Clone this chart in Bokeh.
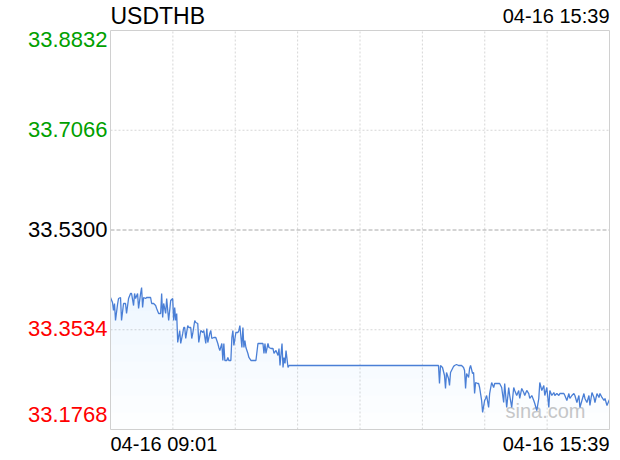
import numpy as np
from bokeh.plotting import figure
from bokeh.models import Range1d
from bokeh.core.properties import value
from bokeh.embed import file_html
from bokeh.resources import INLINE

symbol = "USDTHB"
start_label = "04-16 09:01"
end_label = "04-16 15:39"
watermark = "sina.com"
prev_close = 33.5300
y_ticks = [33.8832, 33.7066, 33.5300, 33.3534, 33.1768]
y_tick_labels = ["33.8832", "33.7066", "33.5300", "33.3534", "33.1768"]
session_minutes = 398  # 09:01 -> 15:39

# minutes since 09:01
minutes = [
    0.0, 1.6, 2.4, 3.2, 4.0, 5.6, 6.4, 8.0, 8.8, 10.4,
    12.0, 12.8, 14.4, 16.0, 16.8, 18.4, 19.2, 20.0, 21.6, 22.4,
    24.0, 24.8, 25.6, 26.4, 28.0, 28.8, 30.4, 32.0, 32.8, 34.4,
    36.0, 36.8, 38.4, 40.0, 40.8, 41.6, 42.4, 44.0, 44.8, 46.4,
    48.0, 49.6, 50.4, 51.2, 52.0, 52.8, 53.6, 55.2, 56.0, 57.6,
    58.4, 59.2, 60.0, 61.6, 62.4, 64.0, 64.8, 65.6, 67.2, 68.0,
    69.6, 70.4, 72.0, 73.6, 74.4, 76.0, 76.8, 77.6, 79.2, 80.0,
    80.8, 82.4, 83.2, 84.0, 85.6, 86.4, 87.2, 88.8, 89.6, 90.4,
    91.2, 92.8, 93.6, 94.4, 96.0, 96.8, 97.6, 98.4, 100.0, 101.6,
    102.4, 103.2, 104.8, 105.6, 106.4, 107.2, 108.0, 109.6, 110.4, 112.0,
    113.6, 114.4, 116.0, 117.6, 118.4, 120.0, 121.6, 122.4, 123.2, 124.0,
    125.6, 126.4, 128.0, 129.6, 130.4, 132.0, 133.6, 134.4, 135.2, 136.8,
    137.6, 138.4, 139.2, 140.0, 141.6, 142.4,
    261.6,
    262.4, 263.2, 264.8, 266.4, 267.2, 268.0, 269.6, 270.4, 271.2, 272.8,
    273.6, 274.4, 276.0, 277.6, 280.0, 281.6, 282.4, 283.2, 284.0, 285.6,
    286.4, 287.2, 288.8, 289.6, 290.4, 291.2, 292.8, 293.6, 294.4, 296.0,
    296.8, 298.4, 299.2, 300.0, 301.6, 302.4, 304.0, 305.6, 306.4, 308.0,
    309.6, 310.4, 312.0, 313.6, 314.4, 316.0, 317.6, 318.4, 320.0, 321.6,
    322.4, 324.0, 325.6, 326.4, 328.0, 329.6, 330.4, 332.0, 333.6, 334.4,
    336.0, 337.6, 338.4, 340.0, 341.6, 342.4, 344.0, 345.6, 346.4, 348.0,
    349.6, 350.4, 352.0, 353.6, 354.4, 356.0, 357.6, 358.4, 360.0, 361.6,
    362.4, 364.0, 365.6, 366.4, 368.0, 369.6, 370.4, 372.0, 373.6, 374.4,
    376.0, 377.6, 378.4, 380.0, 381.6, 382.4, 384.0, 385.6, 386.4, 388.0,
    389.6, 390.4, 392.0, 393.6, 394.4, 396.0, 397.6, 398.0,
]

prices = [
    33.4105, 33.4017, 33.3875, 33.3999, 33.3698, 33.3981, 33.4087, 33.4105, 33.3698, 33.3999,
    33.3999, 33.3822, 33.4087, 33.4176, 33.4176, 33.3963, 33.4176, 33.4087, 33.4176, 33.3910,
    33.4176, 33.4282, 33.3928, 33.4105, 33.4087, 33.4105, 33.4105, 33.4105, 33.3999, 33.3999,
    33.3963, 33.3910, 33.3822, 33.3822, 33.4176, 33.3751, 33.3999, 33.3822, 33.4087, 33.3698,
    33.4052, 33.4087, 33.3698, 33.3928, 33.3698, 33.3822, 33.3308, 33.3521, 33.3291, 33.3468,
    33.3574, 33.3574, 33.3379, 33.3609, 33.3574, 33.3574, 33.3379, 33.3468, 33.3698, 33.3662,
    33.3645, 33.3308, 33.3521, 33.3485, 33.3521, 33.3291, 33.3556, 33.3308, 33.3468, 33.3521,
    33.3379, 33.3397, 33.3397, 33.3397, 33.3291, 33.3220, 33.3167, 33.3291, 33.2990, 33.3291,
    33.2990, 33.2990, 33.3043, 33.2990, 33.2990, 33.3397, 33.3521, 33.3255, 33.3485, 33.3485,
    33.3521, 33.3609, 33.3220, 33.3574, 33.3220, 33.3344, 33.3220, 33.3114, 33.3043, 33.2990,
    33.2990, 33.2990, 33.2990, 33.3291, 33.3291, 33.3291, 33.3291, 33.3114, 33.3291, 33.3114,
    33.3291, 33.3220, 33.3202, 33.3202, 33.3114, 33.3167, 33.3078, 33.3202, 33.2901, 33.3291,
    33.2866, 33.3043, 33.2937, 33.3167, 33.2866, 33.2901,
    33.2901,
    33.2582, 33.2901, 33.2866, 33.2724, 33.2494, 33.2777, 33.2671, 33.2547, 33.2777, 33.2848,
    33.2883, 33.2901, 33.2919, 33.2901, 33.2901, 33.2866, 33.2813, 33.2494, 33.2760, 33.2689,
    33.2848, 33.2901, 33.2760, 33.2777, 33.2405, 33.2600, 33.2582, 33.2582, 33.2512, 33.2282,
    33.2069, 33.2282, 33.2317, 33.2370, 33.2158, 33.2405, 33.2600, 33.2512, 33.2582, 33.2582,
    33.2582, 33.2582, 33.2512, 33.2246, 33.2582, 33.2158, 33.2512, 33.2370, 33.2158, 33.2512,
    33.2459, 33.2370, 33.2459, 33.2317, 33.2494, 33.2423, 33.2370, 33.2459, 33.2405, 33.2317,
    33.2370, 33.2282, 33.2228, 33.2104, 33.2317, 33.2600, 33.2459, 33.2547, 33.2370, 33.2512,
    33.2158, 33.2459, 33.2370, 33.2423, 33.2370, 33.2405, 33.2370, 33.2405, 33.2405, 33.2405,
    33.2370, 33.2282, 33.2405, 33.2317, 33.2370, 33.2405, 33.2370, 33.2246, 33.2370, 33.2158,
    33.2282, 33.2405, 33.2317, 33.2246, 33.2370, 33.2193, 33.2423, 33.2335, 33.2246, 33.2405,
    33.2335, 33.2405, 33.2335, 33.2282, 33.2317, 33.2193, 33.2282, 33.2299,
]

assert len(minutes) == len(prices)

FONT = value("Liberation Sans")
y_min, y_max = y_ticks[-1], y_ticks[0]

# ---- layout (pixels) ----
W, H = 616, 456
BOX_L, BOX_R, BOX_T, BOX_B = 110, 609, 30, 429
kx = session_minutes / (BOX_R - BOX_L)     # minutes per px
ky = (y_max - y_min) / (BOX_B - BOX_T)     # price per px

p = figure(width=W, height=H, output_backend="svg", toolbar_location=None,
           x_range=Range1d(-BOX_L * kx, session_minutes + (W - BOX_R) * kx),
           y_range=Range1d(y_min - (H - BOX_B) * ky, y_max + BOX_T * ky),
           min_border=0, x_axis_location=None, y_axis_location=None)
p.xgrid.visible = False
p.ygrid.visible = False
p.outline_line_color = None
p.background_fill_color = "white"
p.border_fill_color = "white"

GRID = "#d6d6d6"
# vertical grid lines
xg = np.linspace(0, session_minutes, 9)[1:-1]
p.segment(x0=xg, y0=y_min, x1=xg, y1=y_max, line_color=GRID, line_dash="2 2", line_width=1)
# horizontal grid lines
yg = [t for t in y_ticks[1:-1] if t != prev_close]
p.segment(x0=0, y0=yg, x1=session_minutes, y1=yg, line_color=GRID, line_dash="2 2", line_width=1)
# previous close line
p.segment(x0=[0], y0=[prev_close], x1=[session_minutes], y1=[prev_close],
          line_color="#a8a8a8", line_dash="4 2", line_width=1)

# watermark (behind the line)
p.text(x=[session_minutes - 24 * kx], y=[y_min + 19 * ky], text=[watermark],
       text_align="right", text_baseline="alphabetic", text_font=FONT,
       text_font_size="20px", text_color="#c8c8c8")

# light gradient-like area under the line
pr = np.array(prices)
for L in np.linspace(y_min, y_min + 0.21, 8):
    p.varea(x=minutes, y1=np.minimum(L, pr), y2=pr, fill_color="#3d7bd6", fill_alpha=0.009)

p.line(minutes, prices, line_color="#4a7fd6", line_width=1.3)

# plot box
p.quad(left=[0], right=[session_minutes], bottom=[y_min], top=[y_max],
       fill_color=None, line_color="#d0d0d0", line_width=1)

# y labels
for t, lab in zip(y_ticks, y_tick_labels):
    if t > prev_close:
        col = "#00a000"
    elif t < prev_close:
        col = "#ff0000"
    else:
        col = "#000000"
    if t == y_max:
        yy = t - 9 * ky
    elif t == y_min:
        yy = t + 15 * ky
    else:
        yy = t + 1 * ky
    p.text(x=[-3 * kx], y=[yy], text=[lab], text_align="right",
           text_baseline="alphabetic", text_font=FONT, text_font_size="22px",
           text_color=col)

# title and times
p.text(x=[0], y=[y_max + 15 * ky], text=[symbol], text_align="left",
       text_baseline="alphabetic", text_font=FONT, text_font_size="23px", text_color="#000000")
p.text(x=[session_minutes], y=[y_max + 15 * ky], text=[end_label], text_align="right",
       text_baseline="alphabetic", text_font=FONT, text_font_size="20px", text_color="#000000")
p.text(x=[0], y=[y_min - 14 * ky], text=[start_label], text_align="left",
       text_baseline="alphabetic", text_font=FONT, text_font_size="20px", text_color="#000000")
p.text(x=[session_minutes], y=[y_min - 14 * ky], text=[end_label], text_align="right",
       text_baseline="alphabetic", text_font=FONT, text_font_size="20px", text_color="#000000")

open("out.html", "w").write(file_html(p, INLINE))
